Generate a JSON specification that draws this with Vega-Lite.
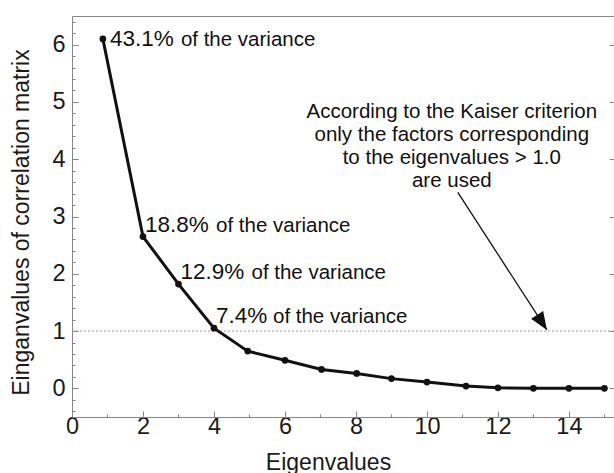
{
  "$schema": "https://vega.github.io/schema/vega-lite/v6.json",
  "width": 542,
  "height": 401,
  "autosize": {"type": "none"},
  "padding": {"left": 72, "top": 16, "right": 0, "bottom": 56},
  "background": "white",
  "config": {
    "view": {"stroke": null},
    "font": "Liberation Sans",
    "axis": {
      "grid": false,
      "domainColor": "#858585",
      "tickColor": "#858585",
      "labelColor": "#1a1a1a",
      "titleColor": "#1a1a1a",
      "labelFont": "Liberation Sans",
      "titleFont": "Liberation Sans",
      "labelFontSize": 23.5,
      "titleFontSize": 23,
      "titleFontWeight": "normal"
    }
  },
  "datasets": {
    "scree": [
      {"n": 1, "x": 0.87, "ev": 6.1, "pct": "43.1%"},
      {"n": 2, "x": 2, "ev": 2.65, "pct": "18.8%"},
      {"n": 3, "x": 3, "ev": 1.82, "pct": "12.9%"},
      {"n": 4, "x": 4, "ev": 1.05, "pct": "7.4%"},
      {"n": 5, "x": 4.95, "ev": 0.65},
      {"n": 6, "x": 6, "ev": 0.49},
      {"n": 7, "x": 7.03, "ev": 0.33},
      {"n": 8, "x": 8.02, "ev": 0.26},
      {"n": 9, "x": 9, "ev": 0.17},
      {"n": 10, "x": 10, "ev": 0.11},
      {"n": 11, "x": 11.1, "ev": 0.04},
      {"n": 12, "x": 12, "ev": 0.01},
      {"n": 13, "x": 13, "ev": 0.0},
      {"n": 14, "x": 14, "ev": 0.0},
      {"n": 15, "x": 15, "ev": 0.0}
    ],
    "note": [
      {"x": 10.7, "y": 4.72, "text": ["According to the Kaiser criterion", "only the factors corresponding", "to the eigenvalues > 1.0", "are used"]}
    ],
    "arrow": [{"x": 10.87, "y": 3.42, "x2": 13.38, "y2": 1.02}],
    "threshold": [{"y": 1}]
  },
  "resolve": {"scale": {"x": "shared", "y": "shared"}, "axis": {"x": "independent", "y": "independent"}},
  "layer": [
    {
      "data": {"name": "threshold"},
      "mark": {"type": "rule", "color": "#9a9a9a", "strokeWidth": 1, "strokeDash": [2, 2]},
      "encoding": {
        "y": {"field": "y", "type": "quantitative", "axis": null}
      }
    },
    {
      "data": {"name": "scree"},
      "mark": {"type": "line", "color": "#111111", "strokeWidth": 3},
      "encoding": {
        "x": {
          "field": "x", "type": "quantitative",
          "scale": {"domain": [0, 15.27], "nice": false, "zero": false},
          "axis": {
            "orient": "bottom",
            "title": "Eigenvalues",
            "values": [0,1,2,3,4,5,6,7,8,9,10,11,12,13,14,15],
            "labelExpr": "datum.value % 2 != 0 ? '' : datum.label",
            "labelOverlap": false,
            "labelFlush": false,
            "labelPadding": 3,
            "tickSize": {"condition": {"test": "datum.value % 2 != 0", "value": -3}, "value": -6},
            "titleX": 256,
            "titleY": 34
          }
        },
        "y": {
          "field": "ev", "type": "quantitative",
          "scale": {"domain": [-0.5, 6.5], "nice": false, "zero": false},
          "axis": {
            "orient": "left",
            "title": "Einganvalues of correlation matrix",
            "values": [-0.4,-0.2,0,0.2,0.4,0.6,0.8,1,1.2,1.4,1.6,1.8,2,2.2,2.4,2.6,2.8,3,3.2,3.4,3.6,3.8,4,4.2,4.4,4.6,4.8,5,5.2,5.4,5.6,5.8,6,6.2,6.4],
            "labelExpr": "abs(datum.value - round(datum.value)) < 0.01 ? format(round(datum.value), 'd') : ''",
            "labelOverlap": false,
            "labelFlush": false,
            "labelPadding": 13,
            "tickSize": {"condition": {"test": "abs(datum.value - round(datum.value)) > 0.01", "value": -3}, "value": -6},
            "titleX": -39,
            "titleY": 206
          }
        }
      }
    },
    {
      "data": {"name": "scree"},
      "mark": {"type": "point", "filled": true, "color": "#111111", "size": 45, "opacity": 1},
      "encoding": {
        "x": {
          "field": "x", "type": "quantitative",
          "scale": {"domain": [0, 15.27], "nice": false, "zero": false},
          "axis": {"orient": "top", "title": null, "ticks": false, "labels": false, "domain": true}
        },
        "y": {
          "field": "ev", "type": "quantitative",
          "scale": {"domain": [-0.5, 6.5], "nice": false, "zero": false},
          "axis": {"orient": "right", "title": null, "labels": false, "domain": false, "values": [0,1,2,3,4,5,6], "tickSize": -5}
        }
      }
    },
    {
      "data": {"name": "scree"},
      "transform": [{"filter": "datum.n == 1"}],
      "mark": {"type": "text", "align": "left", "baseline": "alphabetic", "dx": 7, "dy": 7, "fontSize": 22.5, "color": "#111111"},
      "encoding": {
        "x": {"field": "x", "type": "quantitative", "axis": null},
        "y": {"field": "ev", "type": "quantitative", "axis": null},
        "text": {"field": "pct"}
      }
    },
    {
      "data": {"name": "scree"},
      "transform": [{"filter": "datum.n >= 2 && datum.n <= 4"}],
      "mark": {"type": "text", "align": "left", "baseline": "alphabetic", "dx": 2, "dy": -5, "fontSize": 22.5, "color": "#111111"},
      "encoding": {
        "x": {"field": "x", "type": "quantitative", "axis": null},
        "y": {"field": "ev", "type": "quantitative", "axis": null},
        "text": {"field": "pct"}
      }
    },
    {
      "data": {"name": "scree"},
      "transform": [{"filter": "datum.n == 1"}],
      "mark": {"type": "text", "text": "of the variance", "align": "left", "baseline": "alphabetic", "dx": 78, "dy": 7, "fontSize": 20.5, "color": "#111111"},
      "encoding": {
        "x": {"field": "x", "type": "quantitative", "axis": null},
        "y": {"field": "ev", "type": "quantitative", "axis": null}
      }
    },
    {
      "data": {"name": "scree"},
      "transform": [{"filter": "datum.n == 2 || datum.n == 3"}],
      "mark": {"type": "text", "text": "of the variance", "align": "left", "baseline": "alphabetic", "dx": 73, "dy": -5, "fontSize": 20.5, "color": "#111111"},
      "encoding": {
        "x": {"field": "x", "type": "quantitative", "axis": null},
        "y": {"field": "ev", "type": "quantitative", "axis": null}
      }
    },
    {
      "data": {"name": "scree"},
      "transform": [{"filter": "datum.n == 4"}],
      "mark": {"type": "text", "text": "of the variance", "align": "left", "baseline": "alphabetic", "dx": 59, "dy": -5, "fontSize": 20.5, "color": "#111111"},
      "encoding": {
        "x": {"field": "x", "type": "quantitative", "axis": null},
        "y": {"field": "ev", "type": "quantitative", "axis": null}
      }
    },
    {
      "data": {"name": "note"},
      "mark": {"type": "text", "align": "center", "baseline": "alphabetic", "fontSize": 20.5, "lineHeight": 23, "color": "#111111"},
      "encoding": {
        "x": {"field": "x", "type": "quantitative", "axis": null},
        "y": {"field": "y", "type": "quantitative", "axis": null},
        "text": {"field": "text"}
      }
    },
    {
      "data": {"name": "arrow"},
      "mark": {"type": "rule", "color": "#111111", "strokeWidth": 1.3},
      "encoding": {
        "x": {"field": "x", "type": "quantitative", "axis": null},
        "y": {"field": "y", "type": "quantitative", "axis": null},
        "x2": {"field": "x2"},
        "y2": {"field": "y2"}
      }
    },
    {
      "data": {"name": "arrow"},
      "mark": {"type": "point", "filled": true, "color": "#111111", "opacity": 1, "size": 324, "shape": "M0,0L-0.8,-2L0.8,-2Z", "angle": 327},
      "encoding": {
        "x": {"field": "x2", "type": "quantitative", "axis": null},
        "y": {"field": "y2", "type": "quantitative", "axis": null}
      }
    }
  ]
}
